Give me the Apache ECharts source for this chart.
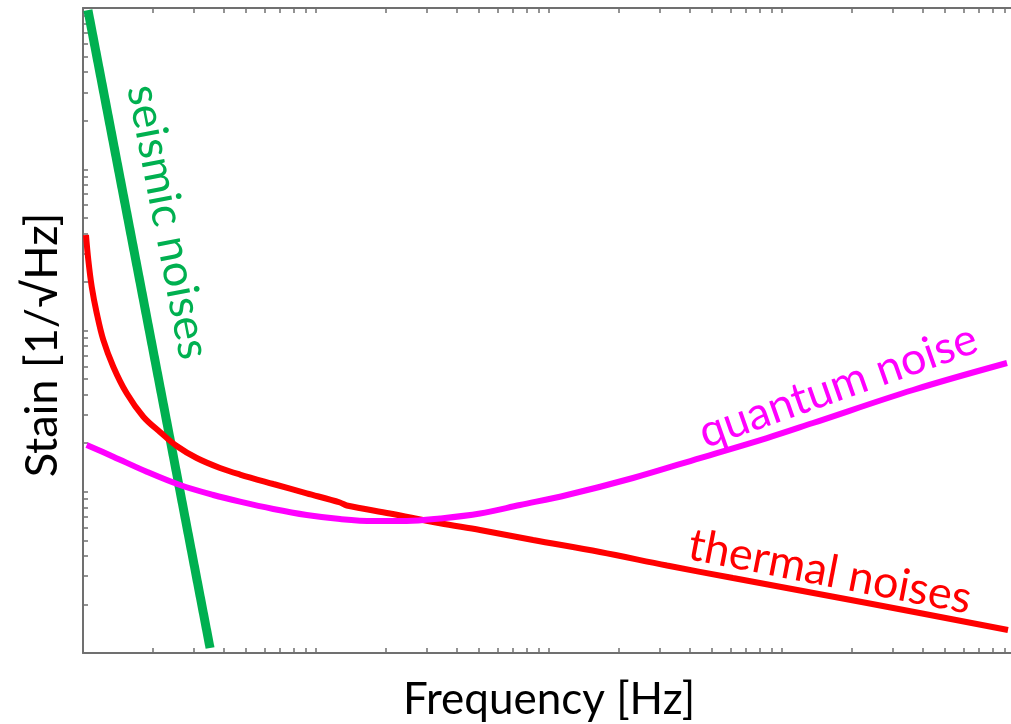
<!DOCTYPE html>
<html>
<head>
<meta charset="utf-8">
<script src="https://cdn.jsdelivr.net/npm/echarts@6/dist/echarts.min.js"></script>
<style>
  html, body { margin: 0; padding: 0; background: #ffffff; }
  #chart { width: 1011px; height: 724px; }
</style>
</head>
<body>
<div id="chart"></div>
<script>
// ---- data (log-log, arbitrary units) ----
const xTicks = [1,2,3,4,5,6,7,8,9,10,20,30,40,50,60,70,80,90,100,200,300,400,500,600,700,800,900,1000,2000,3000,4000,5000,6000,7000,8000,9000,10000];
const yTicks = [1,2,3,4,5,6,7,8,9,10,20,30,40,50,60,70,80,90,100,200,300,400,500,600,700,800,900,1000,2000,3000,4000,5000,6000,7000,8000,9000,10000];

const seismicX = [1.05, 3.51];
const seismicY = [9700, 1.074];

const thermalX = [1.03, 1.054, 1.09, 1.145, 1.222, 1.349, 1.54, 1.815, 2.14, 2.524, 3.076, 3.873, 4.718, 6.557, 9.123, 12.68, 13.55, 20.78, 34.06, 50.57, 85.4, 165.5, 320.9, 616.2, 2316, 9333];
const thermalY = [391, 273.6, 186.9, 128.4, 87.34, 59.64, 40.78, 29.21, 23.47, 19.22, 16.19, 14.04, 12.79, 11.17, 9.781, 8.577, 8.218, 7.33, 6.374, 5.792, 5.022, 4.23, 3.488, 2.918, 2.042, 1.389];

const quantumX = [1.037, 1.349, 1.877, 2.608, 3.624, 4.718, 6.557, 9.123, 12.68, 17.62, 24.51, 34.06, 50.57, 75.07, 119.5, 229.3, 444.6, 862, 1358, 3650, 9241];
const quantumY = [19.5, 16.5, 13.31, 11.01, 9.546, 8.677, 7.816, 7.175, 6.776, 6.585, 6.585, 6.825, 7.33, 8.277, 9.546, 12.17, 16.19, 21.54, 26.69, 42.76, 62.86];

const labels = {
  xName: 'Frequency [Hz]',
  yName: 'Stain [1/\u221AHz]',
  seismic: 'seismic noises',
  quantum: 'quantum noise',
  thermal: 'thermal noises'
};

const zip = (xs, ys) => xs.map((x, i) => [x, ys[i]]);

const FONT = 'Lato';
const axisColor = '#707070';

function logAxis(pos, ticks, extra) {
  return Object.assign({
    type: 'log',
    logBase: 10,
    min: 1,
    max: 10000,
    position: pos,
    axisLine: { show: true, lineStyle: { color: axisColor, width: 2 } },
    axisTick: { show: true, inside: true, length: 5, customValues: ticks, lineStyle: { color: axisColor, width: 1.5 } },
    minorTick: { show: false },
    axisLabel: { show: false },
    splitLine: { show: false }
  }, extra || {});
}

const chart = echarts.init(document.getElementById('chart'), null, { renderer: 'canvas' });

chart.setOption({
  backgroundColor: '#ffffff',
  animation: false,
  grid: { left: 83, top: 8, width: 932, height: 645, containLabel: false, outerBoundsMode: 'none' },
  xAxis: [
    logAxis('bottom', xTicks, {
      name: labels.xName,
      nameLocation: 'middle',
      nameGap: 25,
      nameTextStyle: { fontFamily: FONT, fontSize: 44, color: '#000000' }
    }),
    logAxis('top', xTicks)
  ],
  yAxis: [
    logAxis('left', yTicks)
  ],
  series: [
    {
      name: 'seismic noises', type: 'line', data: zip(seismicX, seismicY),
      symbol: 'none', clip: true,
      lineStyle: { color: '#00b050', width: 9 }, z: 2
    },
    {
      name: 'thermal noises', type: 'line', data: zip(thermalX, thermalY),
      symbol: 'none', smooth: 0.35, clip: true,
      lineStyle: { color: '#ff0000', width: 6 }, z: 3
    },
    {
      name: 'quantum noise', type: 'line', data: zip(quantumX, quantumY),
      symbol: 'none', smooth: 0.35, clip: true,
      lineStyle: { color: '#ff00ff', width: 6 }, z: 4
    }
  ],
  graphic: [
    {
      type: 'text', x: 42, y: 345, rotation: Math.PI / 2,
      style: { text: labels.yName, x: 0, y: 0, align: 'center', verticalAlign: 'middle', fontFamily: FONT, fontSize: 45, fill: '#000000' }
    },
    {
      type: 'text', x: 168, y: 222, rotation: -79 * Math.PI / 180,
      style: { text: labels.seismic, x: 0, y: 0, align: 'center', verticalAlign: 'middle', fontFamily: FONT, fontSize: 45, fill: '#00b050' }
    },
    {
      type: 'text', x: 838, y: 386, rotation: 19.4 * Math.PI / 180,
      style: { text: labels.quantum, x: 0, y: 0, align: 'center', verticalAlign: 'middle', fontFamily: FONT, fontSize: 45, fill: '#ff00ff' }
    },
    {
      type: 'text', x: 830, y: 572, rotation: -11 * Math.PI / 180,
      style: { text: labels.thermal, x: 0, y: 0, align: 'center', verticalAlign: 'middle', fontFamily: FONT, fontSize: 45, fill: '#ff0000' }
    }
  ]
});
</script>
</body>
</html>
